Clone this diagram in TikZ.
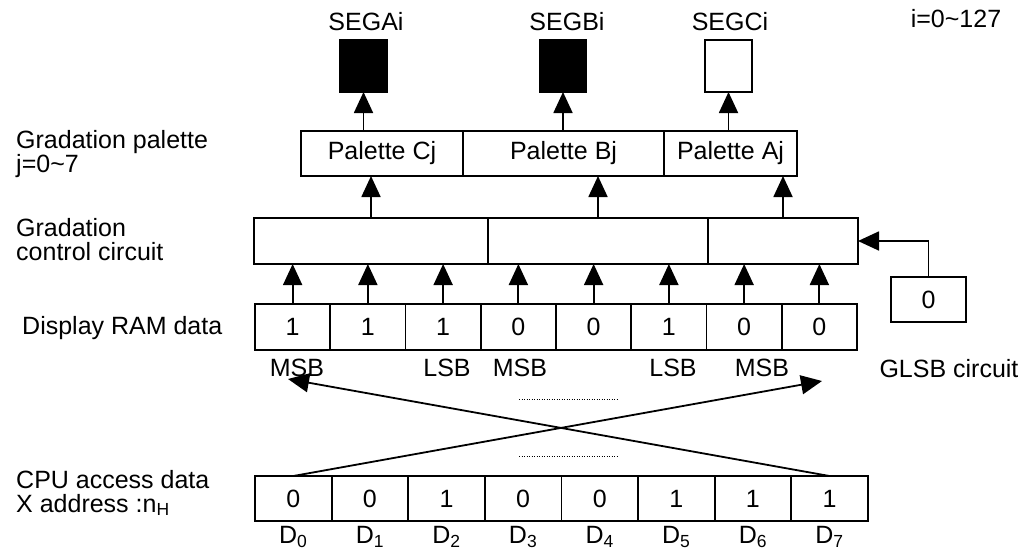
\documentclass[tikz,border=0pt]{standalone}
\usepackage{fontspec}
\setmainfont{Liberation Sans}
\usetikzlibrary{arrows.meta}
\begin{document}
\begin{tikzpicture}[x=1pt,y=-1pt,
  box/.style={draw, line width=1.8pt, inner sep=0pt, outer sep=0pt},
  arr/.style={-{Triangle[length=21pt,width=19pt]}, line width=1.8pt},
  lab/.style={inner sep=0pt, anchor=west, align=left},
  dots/.style={line width=1pt, dash pattern=on 1pt off 1.5pt},
  font=\fontsize{25}{24}\selectfont]
\useasboundingbox (0,0) rectangle (1019,550);
% segment boxes
\node[box, fill=black, minimum width=47pt, minimum height=52pt] (sa) at (363.5,66) {};
\node[box, fill=black, minimum width=46pt, minimum height=52pt] (sb) at (563,66) {};
\node[box, fill=white, minimum width=47pt, minimum height=52pt] (sc) at (728.5,66) {};
\node[inner sep=0pt] (tsa) at (366,22) {SEGAi};
\node[inner sep=0pt] (tsb) at (567,22) {SEGBi};
\node[inner sep=0pt] (tsc) at (730,22) {SEGCi};
\node[inner sep=0pt] (ti) at (956,19) {i=0\textasciitilde127};
% palette row
\node[box, minimum width=162pt, minimum height=45pt] (pc) at (382,153.5) {Palette Cj};
\node[box, minimum width=201pt, minimum height=45pt] (pb) at (563.5,153.5) {Palette Bj};
\node[box, minimum width=133pt, minimum height=45pt] (pa) at (730.5,153.5) {Palette Aj};
\draw[arr] (sa.south |- pc.north) -- (sa.south);
\draw[arr] (sb.south |- pb.north) -- (sb.south);
\draw[arr] (sc.south |- pa.north) -- (sc.south);
% gradation control row
\node[box, minimum width=234pt, minimum height=46pt] (gc) at (371,241) {};
\node[box, minimum width=220pt, minimum height=46pt] (gb) at (598,241) {};
\node[box, minimum width=150pt, minimum height=46pt] (ga) at (783,241) {};
\draw[arr] (gc.north) -- (gc.north |- pc.south);
\draw[arr] (gb.north) -- (gb.north |- pb.south);
\draw[arr] (ga.north) -- (ga.north |- pa.south);
% display RAM row
\foreach \v [count=\k] in {1,1,1,0,0,1,0,0} {
  \node[box, minimum width=75.25pt, minimum height=46pt] (r\k) at ({255+75.25*(\k-0.5)},327) {\v};
  \draw[arr] (r\k.north) -- (r\k.north |- gc.south);
}
\node[inner sep=0pt] (m1) at (297,368) {MSB};
\node[inner sep=0pt] (l1) at (447,368) {LSB};
\node[inner sep=0pt] (m2) at (520,368) {MSB};
\node[inner sep=0pt] (l2) at (673,368) {LSB};
\node[inner sep=0pt] (m3) at (762,368) {MSB};
% GLSB circuit
\node[box, minimum width=75pt, minimum height=45pt] (g0) at (928.5,299.5) {0};
\draw[arr] (g0.north) |- (ga.east);
\node[inner sep=0pt] (tg) at (949,369) {GLSB circuit};
% dotted lines
\draw[dots] (519,399) -- (618,399);
\draw[dots] (519,456) -- (618,456);
% CPU row
\foreach \v [count=\k] in {0,0,1,0,0,1,1,1} {
  \node[box, minimum width=76.6pt, minimum height=45pt] (c\k) at ({255+76.6*(\k-0.5)},498.5) {\v};
  \pgfmathtruncatemacro{\d}{\k-1}
  \node[inner sep=0pt] (d\k) at ({255+76.6*(\k-0.5)},537) {D\textsubscript{\d}};
}
% crossing lines
\coordinate (t1) at (822,381);
\coordinate (t2) at (288,379);
\draw[arr] (c1.north) -- (t1);
\draw[arr] (c8.north) -- (t2);
% left labels
\node[lab] (lp) at (16,154) {Gradation palette\\j=0\textasciitilde7};
\node[lab] (lg) at (16,240) {Gradation\\control circuit};
\node[lab] (ld) at (22,328) {Display RAM data};
\node[lab] (lc) at (16,493) {CPU access data\\X address :n\textsubscript{H}};
\end{tikzpicture}
\end{document}
